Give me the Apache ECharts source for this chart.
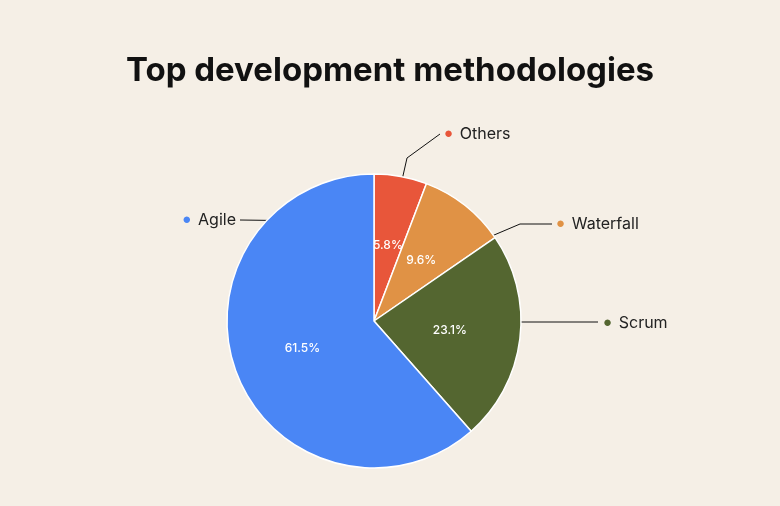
<!DOCTYPE html>
<html><head><meta charset="utf-8">
<script src="https://cdn.jsdelivr.net/npm/echarts@6/dist/echarts.min.js"></script>
<style>html,body{margin:0;padding:0;background:#f5efe6}#c{width:780px;height:506px}</style>
</head><body><div id="c"></div>
<script>
const categories = ['Others', 'Waterfall', 'Scrum', 'Agile'];
const values = [5.8, 9.6, 23.1, 61.5];
const colors = ['#e8563a', '#e09245', '#546630', '#4a86f5'];
// label placement (layout only)
const labelPlace = [
  { x: 444, y: 134, align: 'left', pts: [[393, 220], [407, 158], [440, 134]] },
  { x: 556, y: 224, align: 'left', pts: [[440, 258], [520, 224], [552, 224]] },
  { x: 603, y: 323, align: 'left', pts: [[462, 352], [515, 322], [598, 322]] },
  { x: 236, y: 220, align: 'right', pts: [[322, 285], [316, 221], [240, 220]] }
];
const chart = echarts.init(document.getElementById('c'));
chart.setOption({
  backgroundColor: '#f5efe6',
  title: { text: 'Top development methodologies', left: 'center', top: 50,
    textStyle: { fontFamily: 'Inter', fontWeight: 'bold', fontSize: 33, color: '#111' } },
  series: [
    { type: 'pie', center: [374, 321], radius: 147, startAngle: 90, clockwise: true, silent: true,
      data: categories.map((n, i) => ({ name: n, value: values[i], itemStyle: { color: colors[i] } })),
      itemStyle: { borderColor: '#fff', borderWidth: 1.5 },
      label: { position: 'inside', formatter: p => p.value + '%', color: '#fff',
        fontFamily: 'Inter', fontSize: 12, fontWeight: 500 },
      labelLine: { show: false } },
    { type: 'pie', center: [374, 321], radius: 70, startAngle: 90, clockwise: true, silent: true,
      data: categories.map((n, i) => ({ name: n, value: values[i], itemStyle: { color: 'rgba(0,0,0,0)' } })),
      itemStyle: { borderWidth: 0 },
      label: { position: 'outside', formatter: p => '{d' + p.dataIndex + '|●}  {n|' + p.name + '}',
        rich: {
          d0: { color: colors[0], fontSize: 15 }, d1: { color: colors[1], fontSize: 15 },
          d2: { color: colors[2], fontSize: 15 }, d3: { color: colors[3], fontSize: 15 },
          n: { color: '#222', fontSize: 16, fontFamily: 'Inter' } } },
      labelLine: { show: true, lineStyle: { color: '#111', width: 1 } },
      labelLayout: p => {
        const L = labelPlace[p.dataIndex];
        return { x: L.x, y: L.y, align: L.align, verticalAlign: 'middle', labelLinePoints: L.pts };
      } }
  ]
});
</script></body></html>
